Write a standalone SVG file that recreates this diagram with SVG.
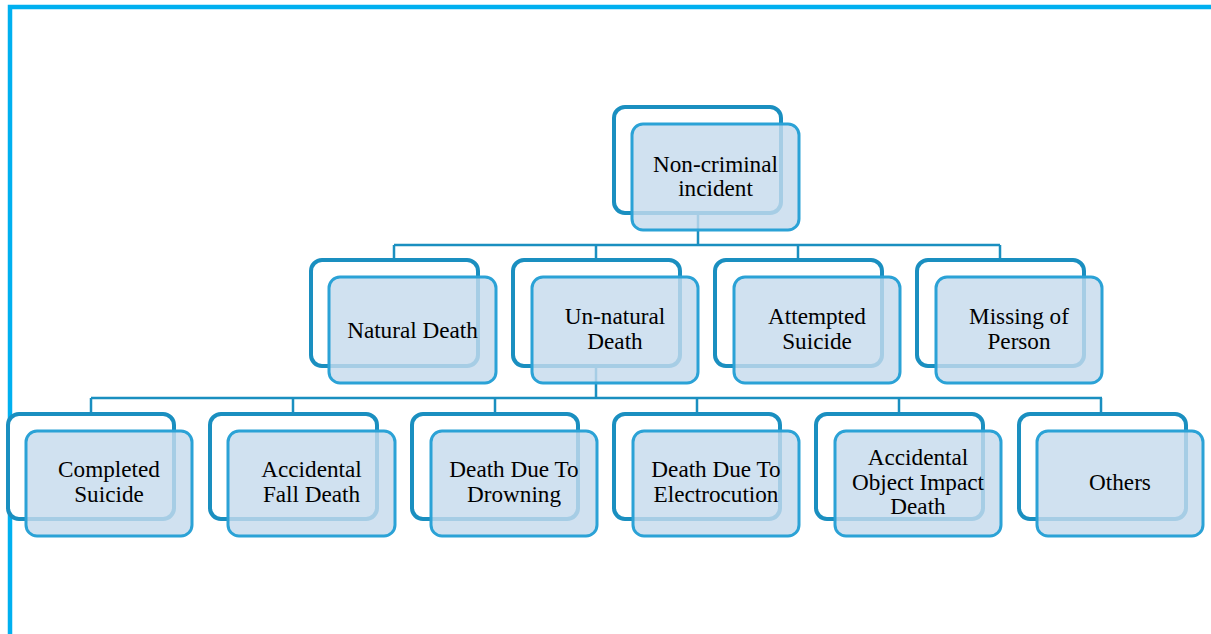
<svg xmlns="http://www.w3.org/2000/svg" width="1211" height="634" viewBox="0 0 1211 634">
<style>
.back{fill:#ffffff;stroke:#1a8fc0;stroke-width:4}
.front{fill:rgb(198,219,237);fill-opacity:0.82;stroke:#2ba2d6;stroke-width:3}
.conn{fill:none;stroke:#1a8fc0;stroke-width:2.5}
text{font-family:"Liberation Serif","Times New Roman",serif;font-size:23.2px;fill:#000;text-anchor:middle}
</style>
<rect width="1211" height="634" fill="#ffffff"/>
<path d="M10 634 V7 H1211" fill="none" stroke="#00b0f0" stroke-width="4.5"/>
<g id="connectors" class="conn">
<path d="M698 215 V245 M394 245 H1000 M394 245 V259 M596 245 V259 M798 245 V259 M1000 245 V259"/>
<path d="M596 368 V398 M91 398 H1102 M91 398 V413 M293 398 V413 M495 398 V413 M697 398 V413 M899 398 V413 M1101 398 V413"/>
</g>
<g id="n0">
<rect class="back" x="614" y="107" width="167" height="106" rx="11"/>
<rect class="front" x="632" y="124" width="167" height="106" rx="11"/>
<text x="715.5" y="172">Non-criminal</text><text x="715.5" y="196">incident</text>
</g>
<g id="n1">
<rect class="back" x="311" y="260" width="167" height="106" rx="11"/>
<rect class="front" x="329" y="277" width="167" height="106" rx="11"/>
<text x="412.5" y="338">Natural Death</text>
</g>
<g id="n2">
<rect class="back" x="513" y="260" width="167" height="106" rx="11"/>
<rect class="front" x="532" y="277" width="166" height="106" rx="11"/>
<text x="615" y="324">Un-natural</text><text x="615" y="349">Death</text>
</g>
<g id="n3">
<rect class="back" x="715" y="260" width="167" height="106" rx="11"/>
<rect class="front" x="734" y="277" width="166" height="106" rx="11"/>
<text x="817" y="324">Attempted</text><text x="817" y="349">Suicide</text>
</g>
<g id="n4">
<rect class="back" x="917" y="260" width="167" height="106" rx="11"/>
<rect class="front" x="936" y="277" width="166" height="106" rx="11"/>
<text x="1019" y="324">Missing of</text><text x="1019" y="349">Person</text>
</g>
<g id="n5">
<rect class="back" x="8" y="414" width="166" height="105" rx="11"/>
<rect class="front" x="26" y="431" width="166" height="105" rx="11"/>
<text x="109" y="477">Completed</text><text x="109" y="502">Suicide</text>
</g>
<g id="n6">
<rect class="back" x="210" y="414" width="167" height="105" rx="11"/>
<rect class="front" x="228" y="431" width="167" height="105" rx="11"/>
<text x="311.5" y="477">Accidental</text><text x="311.5" y="502">Fall Death</text>
</g>
<g id="n7">
<rect class="back" x="412" y="414" width="166" height="105" rx="11"/>
<rect class="front" x="431" y="431" width="166" height="105" rx="11"/>
<text x="514" y="477">Death Due To</text><text x="514" y="502">Drowning</text>
</g>
<g id="n8">
<rect class="back" x="614" y="414" width="166" height="105" rx="11"/>
<rect class="front" x="633" y="431" width="166" height="105" rx="11"/>
<text x="716" y="477">Death Due To</text><text x="716" y="502">Electrocution</text>
</g>
<g id="n9">
<rect class="back" x="816" y="414" width="167" height="105" rx="11"/>
<rect class="front" x="835" y="431" width="166" height="105" rx="11"/>
<text x="918" y="465">Accidental</text><text x="918" y="490">Object Impact</text><text x="918" y="514">Death</text>
</g>
<g id="n10">
<rect class="back" x="1019" y="414" width="167" height="105" rx="11"/>
<rect class="front" x="1037" y="431" width="166" height="105" rx="11"/>
<text x="1120" y="490">Others</text>
</g>
</svg>
